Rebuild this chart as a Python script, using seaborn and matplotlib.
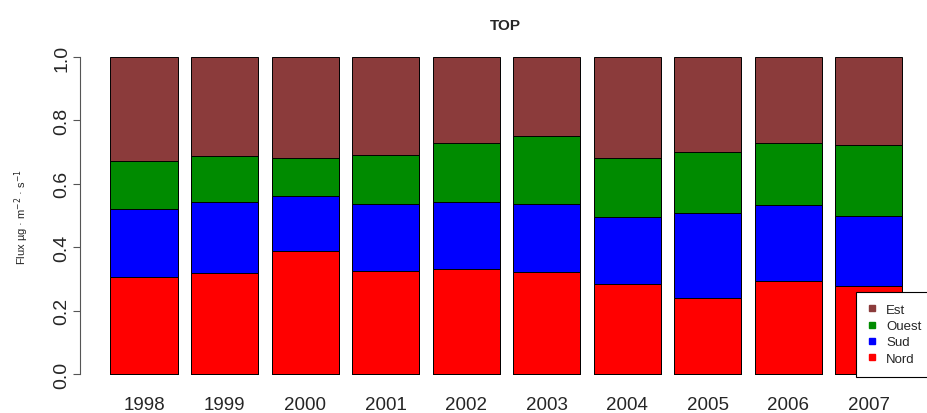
import pandas as pd
import matplotlib.pyplot as plt
import seaborn as sns
from matplotlib.lines import Line2D

# 数据: 每年各方向的通量占比
years = ['1998', '1999', '2000', '2001', '2002', '2003', '2004', '2005', '2006', '2007']
nord = [0.307, 0.319, 0.389, 0.326, 0.331, 0.323, 0.285, 0.241, 0.293, 0.278]
sud = [0.213, 0.223, 0.174, 0.211, 0.213, 0.213, 0.209, 0.267, 0.240, 0.219]
ouest = [0.153, 0.146, 0.118, 0.155, 0.186, 0.216, 0.186, 0.191, 0.196, 0.225]
est = [0.327, 0.312, 0.319, 0.308, 0.270, 0.248, 0.320, 0.301, 0.271, 0.278]

series = ['Nord', 'Sud', 'Ouest', 'Est']
colors = {'Nord': '#FF0000', 'Sud': '#0000FF', 'Ouest': '#008B00', 'Est': '#8B3B3B'}

df = pd.DataFrame({'year': years, 'Nord': nord, 'Sud': sud, 'Ouest': ouest, 'Est': est})
# 累积值, 从上往下叠画
cum = df[series].cumsum(axis=1)
cum['year'] = df['year']

sns.set_style('white')
plt.rcParams['font.family'] = ['Liberation Sans', 'DejaVu Sans']

fig = plt.figure(figsize=(9.28, 4.14), dpi=100)
ax = fig.add_axes([80 / 928, 0.0635, 850 / 928, 0.8906 - 0.0635])

for s in reversed(series):
    sns.barplot(data=cum, x='year', y=s, color=colors[s], width=0.833,
                edgecolor='black', linewidth=0.7, saturation=1, ax=ax)

ax.set_xlim(-0.795, 9.76)
ax.set_ylim(-0.04, 1.04)
ax.set_yticks([0.0, 0.2, 0.4, 0.6, 0.8, 1.0])
ax.set_yticklabels(['0.0', '0.2', '0.4', '0.6', '0.8', '1.0'], rotation=90, va='center')
for sp in ['top', 'right', 'bottom']:
    ax.spines[sp].set_visible(False)
ax.spines['left'].set_bounds(0, 1)
ax.spines['left'].set_color('#555555')
ax.spines['left'].set_linewidth(0.8)
ax.tick_params(axis='y', left=True, length=5, width=0.8, color='#555555',
               labelsize=14, pad=2)
ax.tick_params(axis='x', bottom=False, labelsize=13.5, pad=3)
ax.set_xlabel('')
ax.set_ylabel('Flux µg · m$^{-2}$ · s$^{-1}$', fontsize=8, labelpad=16)
ax.set_title('TOP', fontsize=11, fontweight='bold', pad=11)

handles = [Line2D([], [], marker='s', linestyle='none', color=colors[s], markersize=5)
           for s in ['Est', 'Ouest', 'Sud', 'Nord']]
leg = fig.legend(handles, ['Est', 'Ouest', 'Sud', 'Nord'], loc='upper left',
                 bbox_to_anchor=(856 / 928, 1 - 293 / 414), bbox_transform=fig.transFigure,
                 fontsize=9.5, frameon=True, fancybox=False, edgecolor='black',
                 handlelength=0.6, handletextpad=0.8, labelspacing=0.3, borderpad=0.9,
                 borderaxespad=0)
leg.get_frame().set_linewidth(0.8)
leg.get_frame().set_alpha(1)

plt.savefig('out.png', dpi=100)
plt.close()
